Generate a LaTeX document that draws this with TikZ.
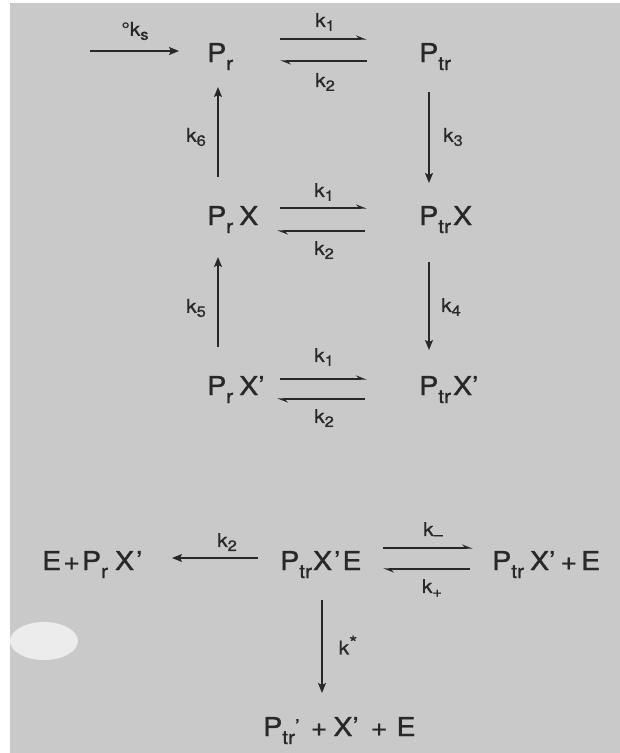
\documentclass[tikz,border=0pt]{standalone}
\usepackage{fontspec}
\setmainfont{TeX Gyre Heros}[FakeBold=0.9, FakeStretch=1.1]
\usepackage{tikz}
\usetikzlibrary{arrows.meta}

\definecolor{scanbg}{RGB}{201,201,201}
\definecolor{blob}{RGB}{236,236,236}
\definecolor{ink}{RGB}{40,40,40}
% lowered indices
\newcommand{\lo}[1]{\raisebox{-8pt}{\fontsize{19}{19}\selectfont #1}}
\newcommand{\klo}[1]{\raisebox{-4pt}{\fontsize{15}{15}\selectfont #1}}

\begin{document}
\begin{tikzpicture}[x=1pt, y=-1pt,
  species/.style={anchor=base west, inner sep=0pt, text=ink,
    font=\fontsize{26}{26}\selectfont},
  rate/.style={inner sep=0pt, text=ink, font=\fontsize{19}{19}\selectfont},
  fwd/.style={draw=ink, line width=1.4pt,
    -{Stealth[length=10pt, width=8pt, inset=2pt]}},
  harp/.style={draw=ink, line width=1.4pt,
    -{Stealth[harpoon, length=9pt, width=7pt]}}]
  \useasboundingbox (0,0) rectangle (620,753);
  % scanned sheet
  \fill[scanbg] (10,3) rectangle (620,753);
  \fill[blob] (44,641) ellipse [x radius=34pt, y radius=19pt];

  % square of states
  \node[species] (Pr)    at (207,62)  {P\lo{r}};
  \node[species] (Ptr)   at (419,62)  {P\lo{tr}};
  \node[species] (PrX)   at (207,225) {P\lo{r}\hspace{6pt}X};
  \node[species] (PtrX)  at (419,225) {P\lo{tr}\kern2pt X};
  \node[species] (PrXp)  at (207,395) {P\lo{r}\hspace{6pt}X'};
  \node[species] (PtrXp) at (419,395) {P\lo{tr}\kern2pt X'};

  \coordinate (src) at (90,51);
  \draw[fwd] (src) -- ([xshift=-28pt, yshift=11pt]Pr.base west);
  \node[rate] (ks) at (135,31) {°k\klo{s}};

  \draw[harp] ([xshift=73pt, yshift=23pt]Pr.base west) -- ([xshift=-52pt, yshift=23pt]Ptr.base west);
  \draw[harp] ([xshift=-52pt, yshift=1pt]Ptr.base west) -- ([xshift=73pt, yshift=1pt]Pr.base west);
  \node[rate] (k1a) at (325,22) {k\klo{1}};
  \node[rate] (k2a) at (325,82) {k\klo{2}};

  \draw[harp] ([xshift=73pt, yshift=17pt]PrX.base west) -- ([xshift=-52pt, yshift=17pt]PtrX.base west);
  \draw[harp] ([xshift=-54pt, yshift=-6pt]PtrX.base west) -- ([xshift=70pt, yshift=-6pt]PrX.base west);
  \node[rate] (k1b) at (324,192) {k\klo{1}};
  \node[rate] (k2b) at (324,250) {k\klo{2}};

  \draw[harp] ([xshift=73pt, yshift=16pt]PrXp.base west) -- ([xshift=-52pt, yshift=16pt]PtrXp.base west);
  \draw[harp] ([xshift=-54pt, yshift=-4pt]PtrXp.base west) -- ([xshift=70pt, yshift=-4pt]PrXp.base west);
  \node[rate] (k1c) at (324,357) {k\klo{1}};
  \node[rate] (k2c) at (324,418) {k\klo{2}};

  % vertical steps
  \draw[fwd] ([xshift=11pt, yshift=48pt]PrX.base west) -- ([xshift=11pt, yshift=-25pt]Pr.base west);
  \draw[fwd] ([xshift=11pt, yshift=48pt]PrXp.base west) -- ([xshift=11pt, yshift=-32pt]PrX.base west);
  \draw[fwd] ([xshift=10pt, yshift=-30pt]Ptr.base west) -- ([xshift=10pt, yshift=42pt]PtrX.base west);
  \draw[fwd] ([xshift=10pt, yshift=-37pt]PtrX.base west) -- ([xshift=10pt, yshift=45pt]PtrXp.base west);
  \node[rate] (k6) at (196,137) {k\klo{6}};
  \node[rate] (k5) at (196,308) {k\klo{5}};
  \node[rate] (k3) at (453,137) {k\klo{3}};
  \node[rate] (k4) at (451,307) {k\klo{4}};

  % enzyme step
  \node[species] (EPrXp)   at (42,570)  {E\kern2pt+\kern2pt P\lo{r}\hspace{7pt}X\kern2pt'};
  \node[species] (PtrXpE)  at (280,570) {P\lo{tr}\kern1pt X\kern2pt'\kern2pt E};
  \node[species] (PtrXpsE) at (492,570) {P\lo{tr}\hspace{6pt}X'\hspace{5pt}+\hspace{4pt}E};
  \node[species] (prod)    at (263,736) {P\lo{tr\raisebox{11pt}{'}}\hspace{11pt}+\hspace{6pt}X'\hspace{12pt}+\hspace{9pt}E};

  \draw[fwd] ([xshift=-22pt, yshift=12pt]PtrXpE.base west) -- ([xshift=130pt, yshift=12pt]EPrXp.base west);
  \node[rate] (k2d) at (227,542) {k\klo{2}};

  \draw[harp] ([xshift=103pt, yshift=22pt]PtrXpE.base west) -- ([xshift=-19pt, yshift=22pt]PtrXpsE.base west);
  \draw[harp] ([xshift=-22pt, yshift=1pt]PtrXpsE.base west) -- ([xshift=103pt, yshift=1pt]PtrXpE.base west);
  \node[rate] (kminus) at (433,531) {k\klo{--}};
  \node[rate] (kplus)  at (432,588) {k\klo{+}};

  \draw[fwd] ([xshift=42pt, yshift=-30pt]PtrXpE.base west) -- ([xshift=59pt, yshift=43pt]prod.base west);
  \node[rate] (kstar) at (348,645) {k\raisebox{5pt}{*}};
\end{tikzpicture}
\end{document}
